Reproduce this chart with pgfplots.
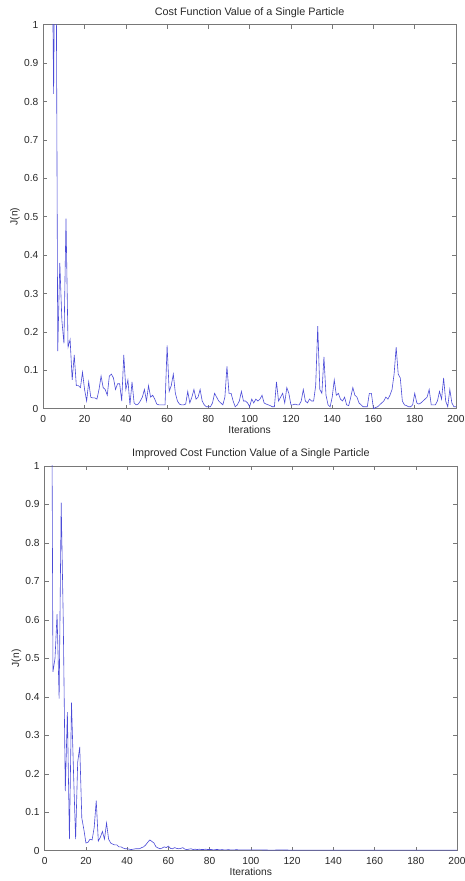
\documentclass[border=0pt]{standalone}
\usepackage{fontspec}
\setmainfont{Liberation Sans}
\usepackage{pgfplots}
\pgfplotsset{compat=1.18}
\definecolor{lineblue}{RGB}{75,75,215}
\definecolor{axgray}{RGB}{120,120,120}
\definecolor{txtgray}{RGB}{40,40,40}
\pgfplotsset{
  mystyle/.style={
    scale only axis,
    anchor=south west,
    xmin=0, xmax=200, ymin=0, ymax=1,
    xtick={0,20,...,200},
    ytick={0,0.1,...,1.0},
    tick pos=both,
    tick align=inside,
    major tick length=4pt,
    axis line style={axgray, line width=0.5pt},
    every tick/.style={axgray, line width=0.5pt},
    /pgf/number format/assume math mode=true,
    yticklabel style={/pgf/number format/fixed,/pgf/number format/precision=1, anchor=east, xshift=-1.5pt, text=txtgray, font=\fontsize{10.2}{12}\selectfont},
    xticklabel style={anchor=base, yshift=-13.5pt, inner sep=0pt, text=txtgray, font=\fontsize{10.2}{12}\selectfont},
    xlabel={Iterations},
    ylabel={J(n)},
    every axis title shift=0pt,
    xlabel style={at={(axis description cs:0.5,0)}, anchor=base, yshift=-24.5pt, inner sep=0pt, text=txtgray, font=\fontsize{10.3}{12}\selectfont},
    ylabel style={at={(axis description cs:-0.062,0.5)}, anchor=base, inner sep=0pt, text=txtgray, font=\fontsize{10.3}{12}\selectfont},
    title style={at={(axis description cs:0.5,1)}, anchor=base, yshift=9pt, inner sep=0pt, text=txtgray, font=\fontsize{10.8}{12}\selectfont},
    clip=true,
  }
}
\begin{document}
\begin{tikzpicture}[x=1pt,y=1pt]
\useasboundingbox (0,0) rectangle (464,881);
\begin{axis}[mystyle, at={(43.3pt,472.3pt)}, width=412.7pt, height=384pt,
  title={Cost Function Value of a Single Particle}]
\addplot[lineblue, line width=0.6pt] coordinates {
(1,3.0)(2,2.5)(3,1.8)(4,1.4)(5,0.82)(6,1.5)(7,0.15)(8,0.38)(9,0.23)(10,0.17)
(11,0.495)(12,0.16)(13,0.18)(14,0.075)(15,0.14)(16,0.06)(17,0.06)(18,0.055)(19,0.095)(20,0.05)
(21,0.02)(22,0.07)(23,0.03)(24,0.028)(25,0.028)(26,0.025)(27,0.05)(28,0.085)(29,0.055)(30,0.05)
(31,0.035)(32,0.085)(33,0.09)(34,0.08)(35,0.05)(36,0.065)(37,0.065)(38,0.02)(39,0.14)(40,0.05)
(41,0.075)(42,0.01)(43,0.07)(44,0.015)(45,0.01)(46,0.012)(47,0.02)(48,0.03)(49,0.05)(50,0.02)
(51,0.06)(52,0.03)(53,0.035)(54,0.025)(55,0.012)(56,0.01)(57,0.01)(58,0.01)(59,0.01)(60,0.165)
(61,0.045)(62,0.06)(63,0.09)(64,0.04)(65,0.02)(66,0.012)(67,0.01)(68,0.01)(69,0.012)(70,0.045)
(71,0.015)(72,0.03)(73,0.05)(74,0.025)(75,0.03)(76,0.05)(77,0.02)(78,0.01)(79,0.005)(80,0.005)
(81,0.005)(82,0.015)(83,0.04)(84,0.03)(85,0.02)(86,0.015)(87,0.01)(88,0.03)(89,0.11)(90,0.04)
(91,0.04)(92,0.02)(93,0.005)(94,0.01)(95,0.02)(96,0.045)(97,0.02)(98,0.02)(99,0.015)(100,0.005)
(101,0.025)(102,0.015)(103,0.025)(104,0.02)(105,0.025)(106,0.035)(107,0.015)(108,0.012)(109,0.01)(110,0.008)
(111,0.005)(112,0.005)(113,0.07)(114,0.02)(115,0.03)(116,0.04)(117,0.015)(118,0.055)(119,0.04)(120,0.01)
(121,0.01)(122,0.012)(123,0.01)(124,0.01)(125,0.02)(126,0.05)(127,0.02)(128,0.015)(129,0.025)(130,0.02)
(131,0.02)(132,0.06)(133,0.215)(134,0.05)(135,0.04)(136,0.135)(137,0.035)(138,0.01)(139,0.005)(140,0.03)
(141,0.075)(142,0.035)(143,0.04)(144,0.025)(145,0.02)(146,0.03)(147,0.01)(148,0.008)(149,0.03)(150,0.055)
(151,0.035)(152,0.03)(153,0.015)(154,0.01)(155,0.005)(156,0.005)(157,0.005)(158,0.04)(159,0.04)(160,0.0)
(161,0.003)(162,0.005)(163,0.01)(164,0.015)(165,0.02)(166,0.03)(167,0.025)(168,0.035)(169,0.05)(170,0.09)
(171,0.16)(172,0.09)(173,0.08)(174,0.02)(175,0.01)(176,0.008)(177,0.005)(178,0.005)(179,0.01)(180,0.04)
(181,0.015)(182,0.012)(183,0.015)(184,0.02)(185,0.025)(186,0.03)(187,0.05)(188,0.01)(189,0.01)(190,0.01)
(191,0.02)(192,0.045)(193,0.025)(194,0.08)(195,0.02)(196,0.005)(197,0.05)(198,0.015)(199,0.005)(200,0.005)
};
\end{axis}
\begin{axis}[mystyle, at={(44.7pt,30.3pt)}, width=412.3pt, height=384.7pt,
  title={Improved Cost Function Value of a Single Particle}]
\addplot[lineblue, line width=0.6pt] coordinates {
(1,3.0)(2,2.5)(3,1.8)(4,0.465)(5,0.50)(6,0.615)(7,0.395)(8,0.905)(9,0.6)(10,0.155)
(11,0.36)(12,0.03)(13,0.385)(14,0.2)(15,0.03)(16,0.23)(17,0.27)(18,0.085)(19,0.055)(20,0.02)
(21,0.022)(22,0.03)(23,0.028)(24,0.06)(25,0.13)(26,0.025)(27,0.035)(28,0.05)(29,0.03)(30,0.072)
(31,0.03)(32,0.02)(33,0.017)(34,0.015)(35,0.015)(36,0.01)(37,0.01)(38,0.007)(39,0.005)(40,0.005)
(41,0.004)(42,0.003)(43,0.004)(44,0.005)(45,0.005)(46,0.005)(47,0.008)(48,0.01)(49,0.015)(50,0.022)
(51,0.028)(52,0.024)(53,0.02)(54,0.01)(55,0.007)(56,0.005)(57,0.007)(58,0.01)(59,0.008)(60,0.012)
(61,0.006)(62,0.005)(63,0.008)(64,0.006)(65,0.005)(66,0.006)(67,0.008)(68,0.004)(69,0.003)(70,0.004)
(71,0.005)(72,0.003)(73,0.004)(74,0.003)(75,0.004)(76,0.003)(77,0.003)(78,0.004)(79,0.003)(80,0.003)
(81,0.003)(82,0.002)(83,0.003)(84,0.003)(85,0.002)(86,0.003)(87,0.002)(88,0.002)(89,0.003)(90,0.002)
(91,0.002)(92,0.002)(93,0.003)(94,0.002)(95,0.002)(96,0.002)(97,0.002)(98,0.002)(99,0.002)(100,0.002)
(105,0.002)(110,0.0015)(115,0.002)(120,0.0015)(125,0.0015)(130,0.0015)(135,0.0015)(140,0.0015)(145,0.0015)(150,0.0015)
(155,0.0015)(160,0.0015)(165,0.0015)(170,0.0015)(175,0.0015)(180,0.0015)(185,0.0015)(190,0.0015)(195,0.0015)(200,0.0015)
};
\end{axis}
\end{tikzpicture}
\end{document}
